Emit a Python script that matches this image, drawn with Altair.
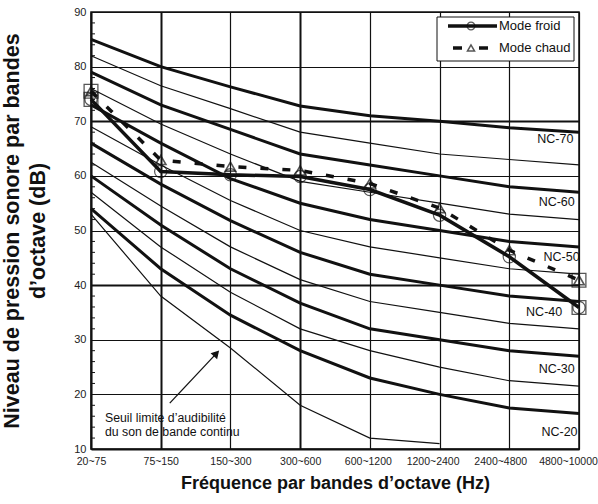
import altair as alt
import pandas as pd

# ---------------- data ----------------
bands = ["20~75", "75~150", "150~300", "300~600", "600~1200",
         "1200~2400", "2400~4800", "4800~10000"]

nc70 = [85, 80, 76.3, 72.8, 71, 70, 68.8, 68]
nc65 = [82, 76.5, 72.3, 68, 66, 64, 63, 62]
nc60 = [79, 73, 68.5, 64, 62, 60, 58, 57]
nc55 = [76, 69.5, 64, 59, 57, 55, 53, 52]
nc50 = [73, 66, 59.5, 55, 52, 50, 48, 47]
nc45 = [69, 62, 55.5, 50, 47, 45, 43, 42]
nc40 = [66, 58.5, 51.8, 46, 42, 40, 38, 37]
nc35 = [62.5, 54.5, 47, 41, 37, 35, 33, 32]
nc30 = [60, 51, 43, 36.7, 32, 30, 28, 27]
nc25 = [57, 47, 38.7, 32, 28, 25, 22.5, 21.5]
nc20 = [54, 43, 34.5, 28, 23, 20, 17.5, 16.5]
threshold = [53, 38, 28.5, 18, 12, 11]

mode_froid = [74, 60.8, 60.2, 59.9, 57.5, 52.8, 45.2, 35.9]
mode_chaud = [75.5, 62.9, 61.7, 61, 58.6, 54.1, 46.4, 40.9]

curves = {"NC-70": nc70, "NC-65": nc65, "NC-60": nc60, "NC-55": nc55,
          "NC-50": nc50, "NC-45": nc45, "NC-40": nc40, "NC-35": nc35,
          "NC-30": nc30, "NC-25": nc25, "NC-20": nc20}
thick_names = ["NC-70", "NC-60", "NC-50", "NC-40", "NC-30", "NC-20"]

label_names = ["NC-70", "NC-60", "NC-50", "NC-40", "NC-30", "NC-20"]
label_x = [6.66, 6.68, 6.75, 6.5, 6.68, 6.72]
label_y = [66.8, 55.2, 45.1, 35.1, 24.6, 13.1]

note_lines = ["Seuil limite d’audibilité", "du son de bande continu"]
note_x = [0.2, 0.2]
note_y = [15.6, 13.2]
arrow_x = [1.13, 1.80]
arrow_y = [18.4, 27.5]

y_ticks = list(range(10, 91, 10))
y_minor = [v for v in range(12, 90, 2) if v % 10 != 0]

# ---------------- tables ----------------
rows = []
for name, vals in curves.items():
    for i, v in enumerate(vals):
        rows.append({"name": name, "i": i, "v": v,
                     "thick": name in thick_names})
df_curves = pd.DataFrame(rows)
df_thick = df_curves[df_curves.thick]
df_thin = df_curves[~df_curves.thick]
df_thr = pd.DataFrame({"i": list(range(len(threshold))), "v": threshold})
df_froid = pd.DataFrame({"i": list(range(len(bands))), "v": mode_froid})
df_chaud = pd.DataFrame({"i": list(range(len(bands))), "v": mode_chaud})
last = len(bands) - 1
df_sq = pd.DataFrame({"i": [0, 0, last, last],
                      "v": [mode_froid[0], mode_chaud[0],
                            mode_froid[last], mode_chaud[last]]})
df_lab = pd.DataFrame({"t": label_names, "x": label_x, "y": label_y})
df_note = pd.DataFrame({"t": note_lines, "x": note_x, "y": note_y})
df_arrow = pd.DataFrame({"x": [arrow_x[0]], "y": [arrow_y[0]],
                         "x2": [arrow_x[1]], "y2": [arrow_y[1]]})
df_head = pd.DataFrame({"x": [arrow_x[1]], "y": [arrow_y[1]]})
df_minor = pd.DataFrame({"v": y_minor})
one = pd.DataFrame({"a": [0]})

FONT = "Liberation Sans"
INK = "#111111"

label_js = "[" + ",".join("'%s'" % b for b in bands) + "][datum.value]"

x_axis = alt.Axis(
    values=list(range(len(bands))), labelExpr=label_js, title="Fréquence par bandes d’octave (Hz)",
    grid=True, gridColor=INK,
    gridWidth={"condition": [{"test": "datum.value == 1 || datum.value == 3", "value": 2}], "value": 1.2},
    ticks=False, labelFontSize=10.5, labelColor="#222", labelPadding=7,
    labelOffset={"condition": [{"test": "datum.value == 7", "value": -11},
                               {"test": "datum.value == 6", "value": -9},
                               {"test": "datum.value == 5", "value": -7},
                               {"test": "datum.value == 4", "value": -2}], "value": 0},
    titleFontSize=18, titleFontWeight="bold", titleColor=INK, titlePadding=8,
    domainColor=INK, domainWidth=2, labelFlush=False)

y_axis = alt.Axis(
    values=y_ticks, title=["Niveau de pression sonore par bandes", "d’octave (dB)"],
    grid=True, gridColor=INK,
    gridWidth={"condition": [{"test": "datum.value == 70 || datum.value == 40", "value": 2}], "value": 1.2},
    ticks=False, labelFontSize=11, labelColor="#222", labelPadding=5,
    titleFontSize=21.5, titleFontWeight="bold", titleColor=INK, titlePadding=24,
    titleLineHeight=26, domainColor=INK, domainWidth=2)

X = alt.X("i:Q", scale=alt.Scale(domain=[0, last], nice=False), axis=x_axis)
Y = alt.Y("v:Q", scale=alt.Scale(domain=[10, 90], nice=False), axis=y_axis)
Xn = alt.X("i:Q", scale=alt.Scale(domain=[0, last], nice=False))
Yn = alt.Y("v:Q", scale=alt.Scale(domain=[10, 90], nice=False))

base_thick = alt.Chart(df_thick).mark_line(color=INK, strokeWidth=3).encode(x=X, y=Y, detail="name:N")
base_thin = alt.Chart(df_thin).mark_line(color=INK, strokeWidth=1.2).encode(x=Xn, y=Yn, detail="name:N")
thr = alt.Chart(df_thr).mark_line(color=INK, strokeWidth=1.2).encode(x=Xn, y=Yn)

froid_line = alt.Chart(df_froid).mark_line(color=INK, strokeWidth=3.5).encode(x=Xn, y=Yn)
chaud_line = alt.Chart(df_chaud).mark_line(color=INK, strokeWidth=3.5, strokeDash=[8, 14]).encode(x=Xn, y=Yn)
froid_pts = alt.Chart(df_froid).mark_point(shape="circle", filled=False, size=150, color=INK,
                                           strokeWidth=1.2).encode(x=Xn, y=Yn)
chaud_pts = alt.Chart(df_chaud).mark_point(shape="triangle-up", filled=False, size=110, color=INK,
                                           strokeWidth=1.6).encode(x=Xn, y=Yn)
squares = alt.Chart(df_sq).mark_point(shape="square", filled=False, size=190, color=INK,
                                      strokeWidth=1.3).encode(x=Xn, y=Yn)

minor = alt.Chart(df_minor).mark_rule(color=INK, strokeWidth=1).encode(
    x=alt.value(0), x2=alt.value(4), y=alt.Y("v:Q", scale=alt.Scale(domain=[10, 90], nice=False)))

nc_text = alt.Chart(df_lab).mark_text(font=FONT, fontSize=12.5, color=INK).encode(
    x=alt.X("x:Q", scale=alt.Scale(domain=[0, last], nice=False)),
    y=alt.Y("y:Q", scale=alt.Scale(domain=[10, 90], nice=False)), text="t:N")

note = alt.Chart(df_note).mark_text(font=FONT, fontSize=12.3, color=INK, align="left").encode(
    x=alt.X("x:Q", scale=alt.Scale(domain=[0, last], nice=False)),
    y=alt.Y("y:Q", scale=alt.Scale(domain=[10, 90], nice=False)), text="t:N")
arrow = alt.Chart(df_arrow).mark_rule(color=INK, strokeWidth=1.3).encode(
    x=alt.X("x:Q", scale=alt.Scale(domain=[0, last], nice=False)),
    y=alt.Y("y:Q", scale=alt.Scale(domain=[10, 90], nice=False)), x2="x2:Q", y2="y2:Q")
head = alt.Chart(df_head).mark_point(shape="triangle-up", filled=True, size=80, color=INK,
                                     opacity=1, angle=43).encode(
    x=alt.X("x:Q", scale=alt.Scale(domain=[0, last], nice=False)),
    y=alt.Y("y:Q", scale=alt.Scale(domain=[10, 90], nice=False)))

# legend (drawn inside the plot, top right)
leg_box = alt.Chart(one).mark_rect(fill="white", stroke=INK, strokeWidth=1).encode(
    x=alt.value(346), x2=alt.value(483), y=alt.value(5), y2=alt.value(49))
leg_l1 = alt.Chart(one).mark_rule(color=INK, strokeWidth=3.5).encode(
    x=alt.value(357), x2=alt.value(406), y=alt.value(14))
leg_c = alt.Chart(one).mark_point(shape="circle", filled=False, size=60, color=INK, strokeWidth=1.2).encode(
    x=alt.value(380), y=alt.value(14))
leg_d1 = alt.Chart(one).mark_rule(color=INK, strokeWidth=3.5).encode(
    x=alt.value(362), x2=alt.value(371), y=alt.value(36))
leg_d2 = alt.Chart(one).mark_rule(color=INK, strokeWidth=3.5).encode(
    x=alt.value(388), x2=alt.value(397), y=alt.value(36))
leg_t = alt.Chart(one).mark_point(shape="triangle-up", filled=False, size=50, color=INK, strokeWidth=1.5).encode(
    x=alt.value(380), y=alt.value(36))
leg_tx1 = alt.Chart(one).mark_text(font=FONT, fontSize=13, color=INK, align="left").encode(
    x=alt.value(408), y=alt.value(14), text=alt.value("Mode froid"))
leg_tx2 = alt.Chart(one).mark_text(font=FONT, fontSize=13, color=INK, align="left").encode(
    x=alt.value(408), y=alt.value(36), text=alt.value("Mode chaud"))

chart = alt.layer(
    base_thick, base_thin, thr, minor,
    froid_line, chaud_line, froid_pts, chaud_pts, squares,
    nc_text, note, arrow, head,
    leg_box, leg_l1, leg_c, leg_d1, leg_d2, leg_t, leg_tx1, leg_tx2,
).properties(
    width=488, height=437,
    autosize=alt.AutoSizeParams(type="none"),
    padding={"left": 91, "top": 12, "right": 19, "bottom": 55},
    background="white",
).configure_view(
    stroke=INK, strokeWidth=1.5
).configure_axis(
    labelFont=FONT, titleFont=FONT
).configure_text(font=FONT)

chart.save("out.html", embed_options={"renderer": "svg", "actions": False})
